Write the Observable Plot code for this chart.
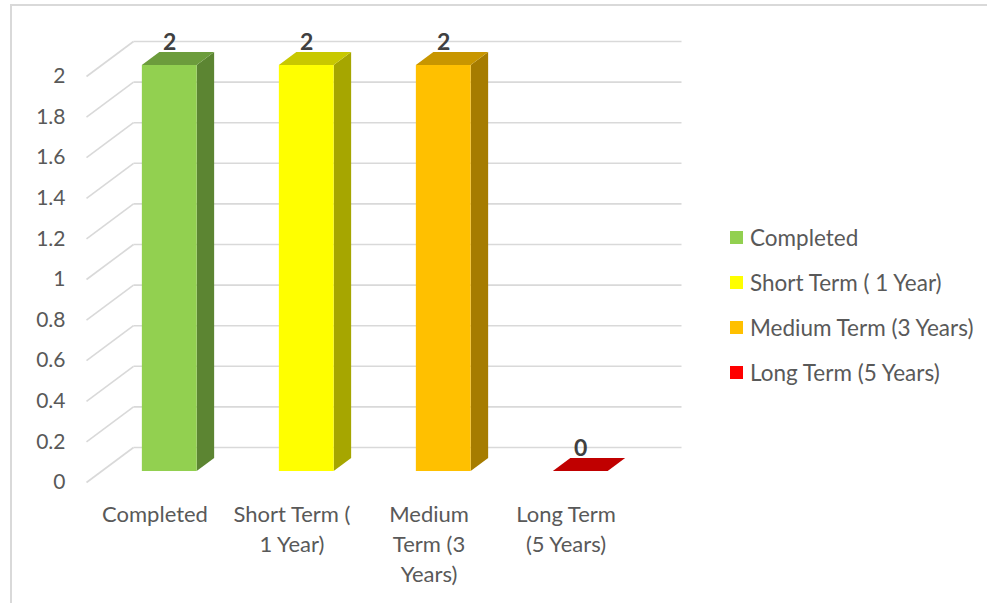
<!DOCTYPE html>
<html>
<head>
<meta charset="utf-8">
<script src="https://cdn.jsdelivr.net/npm/d3@7"></script>
<script src="https://cdn.jsdelivr.net/npm/@observablehq/plot@0.6"></script>
<style>
  html, body { margin: 0; padding: 0; background: #fff; overflow: hidden; }
  #wrap { position: relative; width: 987px; height: 603px; font-family: Lato, "Open Sans", sans-serif; }
  #frame { position: absolute; left: 10px; top: 4px; width: 1100px; height: 800px; border-left: 2px solid #d9d9d9; border-top: 2px solid #d9d9d9; box-sizing: border-box; }
  #chart { position: absolute; left: 0; top: 0; }
  #legend { position: absolute; left: 730px; top: 215px; color: #595959; font-size: 22.5px; }
  .item { display: flex; align-items: center; height: 45px; white-space: nowrap; }
  .sw { width: 13px; height: 13px; margin-right: 7px; flex: none; }
</style>
</head>
<body>
<div id="wrap">
  <div id="frame"></div>
  <div id="chart"></div>
  <div id="legend"></div>
</div>
<script>
// ---- data ----
const categories = ["Completed", "Short Term ( 1 Year)", "Medium Term (3 Years)", "Long Term (5 Years)"];
const values = [2, 2, 2, 0];
const axisLabels = ["Completed", "Short Term (\n1 Year)", "Medium\nTerm (3\nYears)", "Long Term\n(5 Years)"];
const yTicks = [0, 0.2, 0.4, 0.6, 0.8, 1, 1.2, 1.4, 1.6, 1.8, 2];

// ---- style ----
const frontColors = ["#92D050", "#FFFF00", "#FFC000", "#FF0000"];
const topColors   = ["#6C9C3C", "#C8C800", "#C89600", "#C00000"];
const sideColors  = ["#5C8532", "#A6A600", "#A67C00", "#A00000"];
const grid = "#d9d9d9";
const txt = "#595959";

// oblique projection: depth offsets in data units
const DX = 0.343, DY = 0.1724;
const d0 = 0.314, d1 = 0.686, HW = 0.2;

const bars = categories.map((c, i) => ({c, i, v: values[i]}));

const sidePts = bars.flatMap(b => [d0, d1].map(d => ({c: b.c, x: b.i + HW + d * DX, y1: d * DY, y2: b.v + d * DY})));
const topPts = bars.flatMap(b => [d0, d1].map(d => ({c: b.c, y: b.v + d * DY, x1: b.i - HW + d * DX, x2: b.i + HW + d * DX})));

const plot = Plot.plot({
  width: 987,
  height: 603,
  marginLeft: 86,
  marginRight: 306,
  marginTop: 76,
  marginBottom: 121,
  style: {fontFamily: "Lato, 'Open Sans', sans-serif", background: "transparent"},
  x: {domain: [-0.5, 3.5 + DX], axis: null},
  y: {domain: [0, 2], axis: null},
  marks: [
    // side-wall diagonals
    Plot.link(yTicks, {x1: () => -0.5, y1: d => d, x2: () => -0.5 + DX, y2: d => d + DY, stroke: grid, strokeWidth: 1.6}),
    // back-wall gridlines
    Plot.link(yTicks, {x1: () => -0.5 + DX, y1: d => d + DY, x2: () => 3.5 + DX, y2: d => d + DY, stroke: grid, strokeWidth: 1.6}),
    // side faces
    Plot.areaY(sidePts, {x: "x", y1: "y1", y2: "y2", z: "c", fill: (d) => sideColors[categories.indexOf(d.c)]}),
    // top faces
    Plot.areaX(topPts, {y: "y", x1: "x1", x2: "x2", z: "c", fill: (d) => topColors[categories.indexOf(d.c)]}),
    // front faces
    Plot.rect(bars, {x1: d => d.i - HW + d0 * DX, x2: d => d.i + HW + d0 * DX, y1: () => d0 * DY, y2: d => d.v + d0 * DY, fill: d => frontColors[d.i]}),
    // data labels
    Plot.text(bars, {x: d => d.i + d0 * DX, y: d => d.v + d1 * DY, text: d => String(d.v), lineAnchor: "bottom", dy: -2, fontSize: 23, fontWeight: "bold", fill: "#404040"}),
    // y axis labels
    Plot.axisY({ticks: yTicks, tickSize: 0, tickPadding: 21, tickFormat: d => String(d), fontSize: 21, color: txt}),
    // category labels
    Plot.text(bars, {x: d => d.i, y: () => 0, text: d => axisLabels[d.i], lineAnchor: "top", dy: 18, lineHeight: 1.36, fontSize: 22, fill: txt})
  ]
});
document.getElementById("chart").appendChild(plot);

const legend = document.getElementById("legend");
categories.forEach((c, i) => {
  const row = document.createElement("div");
  row.className = "item";
  row.innerHTML = `<span class="sw" style="background:${frontColors[i]}"></span><span>${c}</span>`;
  legend.appendChild(row);
});
</script>
</body>
</html>
